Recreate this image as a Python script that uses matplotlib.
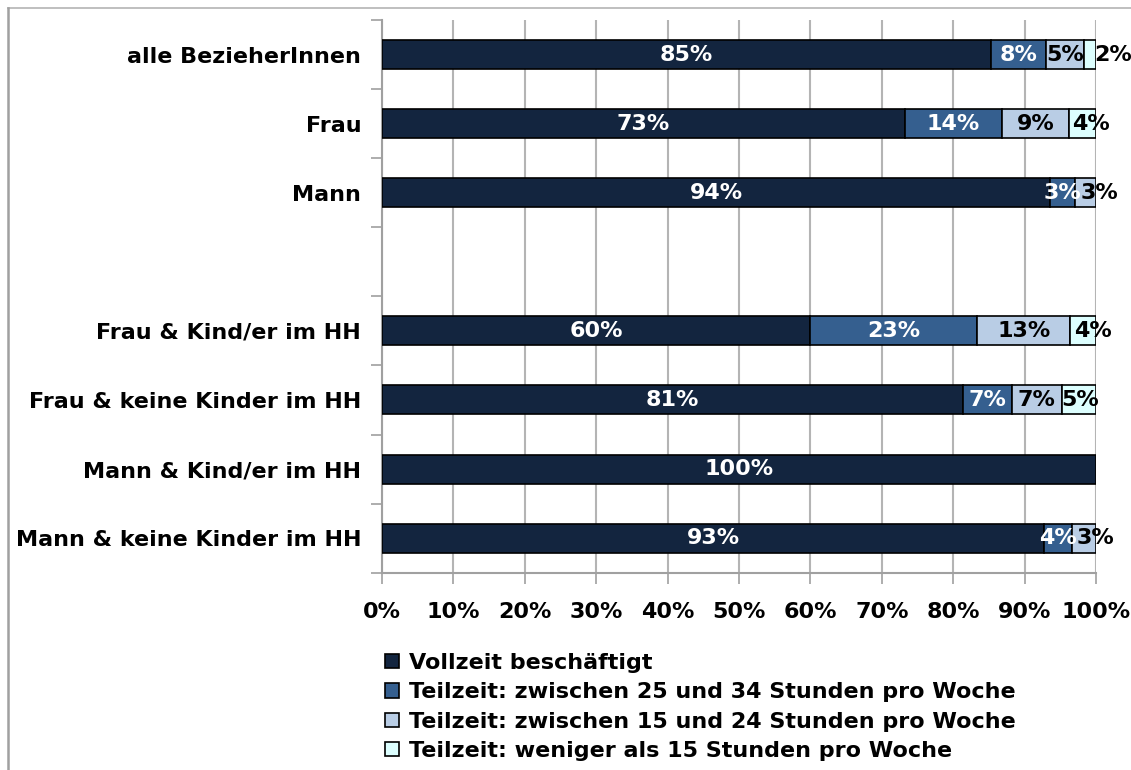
import matplotlib.pyplot as plt
import numpy as np
from matplotlib.lines import Line2D

# categories (empty string = gap row)
categories = [
    "alle BezieherInnen",
    "Frau",
    "Mann",
    "",
    "Frau & Kind/er im HH",
    "Frau & keine Kinder im HH",
    "Mann & Kind/er im HH",
    "Mann & keine Kinder im HH",
]

series_names = [
    "Vollzeit beschäftigt",
    "Teilzeit: zwischen 25 und 34 Stunden pro Woche",
    "Teilzeit: zwischen 15 und 24 Stunden pro Woche",
    "Teilzeit: weniger als 15 Stunden pro Woche",
]

# shares in percent (NaN = gap row)
vollzeit = [85.3, 73.2, 93.6, np.nan, 60.0, 81.4, 100.0, 92.7]
tz_25_34 = [7.7, 13.6, 3.4, np.nan, 23.4, 6.8, 0.0, 3.9]
tz_15_24 = [5.3, 9.4, 3.0, np.nan, 13.0, 7.0, 0.0, 3.4]
tz_u15 = [1.7, 3.8, 0.0, np.nan, 3.6, 4.8, 0.0, 0.0]

colors = ["#13253f", "#355f8f", "#b9cde5", "#ddffff"]
label_colors = ["white", "white", "black", "black"]

FS = 16

plt.rcParams["font.family"] = ["DejaVu Sans"]
plt.rcParams["font.weight"] = "bold"

fig = plt.figure(figsize=(11.31, 7.7), dpi=100)
ax = fig.add_axes([382 / 1131, 1 - 572.7 / 770, 714 / 1131, 552.7 / 770])

# outer frame (only top and left edges are visible)
fig.add_artist(Line2D([8 / 1131, 1], [1 - 8 / 770, 1 - 8 / 770],
                      transform=fig.transFigure, color="#b4b4b4",
                      linewidth=1.2))
fig.add_artist(Line2D([8 / 1131, 8 / 1131], [0, 1 - 8 / 770],
                      transform=fig.transFigure, color="#a0a0a0",
                      linewidth=1.8))

data = np.array([vollzeit, tz_25_34, tz_15_24, tz_u15], dtype=float)
y = np.arange(len(categories))
lefts = np.vstack([np.zeros(len(categories)),
                   np.nancumsum(data, axis=0)[:-1]])

# index of the last non-empty segment per row
last_seg = [
    max((k for k in range(data.shape[0]) if np.nan_to_num(data[k, i]) > 0),
        default=-1)
    for i in range(len(categories))
]

for k, (name, color, lcolor) in enumerate(
    zip(series_names, colors, label_colors)
):
    vals = data[k]
    mask = np.nan_to_num(vals) > 0
    ax.barh(
        y[mask],
        vals[mask],
        left=lefts[k][mask],
        height=0.42,
        color=color,
        edgecolor="black",
        linewidth=1.2,
        label=name,
        zorder=3
    )
    for i in np.where(mask)[0]:
        v = vals[i]
        xpos = lefts[k][i] + v / 2
        # small end segments: label pushed to the right as in the original
        if k == last_seg[i] and k >= 2 and v < 5:
            xpos += 5 - v
        ax.text(
            xpos,
            i,
            f"{v:.0f}%",
            ha="center",
            va="center",
            color=lcolor,
            fontsize=FS,
            fontweight="bold",
            zorder=4,
            clip_on=False
        )

ax.set_xlim(0, 100)
ax.set_ylim(len(categories) - 0.5, -0.5)

ax.set_xticks(np.arange(0, 101, 10))
ax.set_xticklabels([f"{t}%" for t in range(0, 101, 10)],
                   fontsize=FS, fontweight="bold")
ax.tick_params(axis="x", length=8, width=1.2, color="#a0a0a0",
               pad=13, direction="out")

ax.set_yticks(y)
ax.set_yticklabels(categories, fontsize=FS, fontweight="bold")
ax.tick_params(axis="y", which="major", length=0, pad=15)
ax.set_yticks(np.arange(-0.5, len(categories), 1), minor=True)
ax.tick_params(axis="y", which="minor", length=8, width=1.2,
               color="#a0a0a0", direction="out")

ax.grid(axis="x", color="#b4b4b4", linewidth=1.5, zorder=0)
for side in ["top", "right"]:
    ax.spines[side].set_visible(False)
for side in ["left", "bottom"]:
    ax.spines[side].set_color("#a0a0a0")
    ax.spines[side].set_linewidth(1.5)

ax.legend(
    loc="upper left",
    bbox_to_anchor=(385 / 1131, 1 - 653 / 770),
    bbox_transform=fig.transFigure,
    frameon=False,
    fontsize=FS,
    handlelength=0.63,
    handleheight=0.63,
    handletextpad=0.45,
    labelspacing=0.42,
    borderpad=0,
    borderaxespad=0
)

plt.savefig("out.png", dpi=100)
